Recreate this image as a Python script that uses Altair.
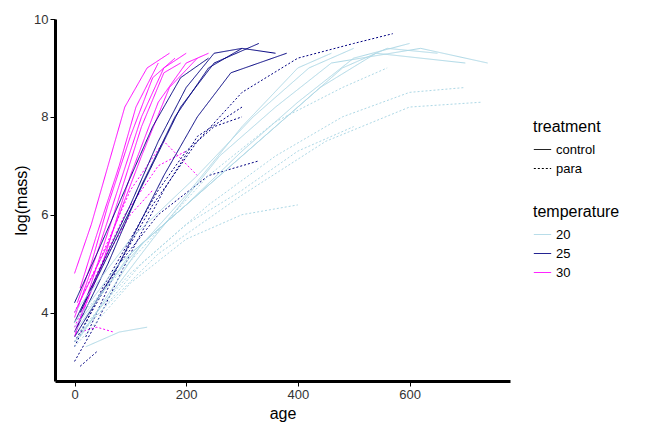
import altair as alt
import pandas as pd

# each entry: (temperature, treatment, "age:logmass ...")
tracks = [
 ("30","control","0:3.9 40:5.2 80:6.6 120:8.0 160:9.0 200:9.3"),
 ("30","control","5:4.2 30:5.0 60:6.2 100:7.6 140:8.8 180:9.2"),
 ("30","control","0:3.6 50:5.0 100:6.8 150:8.3 200:9.1 240:9.3"),
 ("30","control","10:4.5 40:5.6 80:7.0 110:8.2 150:9.1"),
 ("30","control","0:4.0 60:5.4 120:7.2 170:8.6 220:9.2"),
 ("30","control","0:3.5 30:4.6 70:6.0 120:7.8 160:8.9 190:9.1"),
 ("30","control","0:4.8 30:5.8 60:7.0 90:8.2 130:9.0 170:9.3"),
 ("30","para","0:3.7 30:4.5 60:5.2 100:6.0 140:6.5"),
 ("30","para","0:3.5 40:4.8 90:6.0 150:7.0 200:7.3"),
 ("30","para","10:3.6 40:3.7 70:3.6"),
 ("30","para","0:4.0 50:5.2 100:6.5 160:7.5 220:6.8"),
 ("25","control","0:3.8 50:5.0 100:6.2 150:7.5 200:8.6 250:9.3 300:9.4"),
 ("25","control","0:3.6 60:5.0 120:6.6 180:8.0 240:9.0 300:9.4 360:9.3"),
 ("25","control","10:4.0 70:5.4 130:6.8 190:8.2 250:9.1 330:9.5"),
 ("25","control","0:3.5 80:5.0 160:6.8 220:8.0 280:8.9 380:9.3"),
 ("25","control","0:4.2 40:5.2 90:6.5 140:7.8 190:8.8 240:9.2"),
 ("25","para","0:3.3 50:4.5 100:5.5 150:6.5 200:7.3 250:7.8 300:8.0"),
 ("25","para","0:3.0 40:3.8 100:5.2 160:6.5 220:7.6 300:8.2"),
 ("25","para","0:3.4 70:4.8 140:6.2 220:7.5 300:8.5 400:9.2 500:9.5 570:9.7"),
 ("25","para","20:3.5 80:5.0 150:6.0 240:6.8 330:7.1"),
 ("25","para","10:2.9 40:3.2"),
 ("20","control","0:3.6 100:5.2 200:6.2 300:7.3 400:8.3 500:9.2 600:9.5"),
 ("20","control","0:3.8 80:5.0 180:6.0 280:7.0 380:8.0 480:9.0 560:9.4 650:9.3"),
 ("20","control","10:3.5 120:5.4 240:6.6 340:7.6 440:8.6 540:9.3 700:9.1"),
 ("20","control","0:4.0 100:5.5 220:6.8 320:8.0 420:9.0 500:9.4"),
 ("20","control","0:3.4 140:5.5 260:7.2 360:8.2 460:9.1 620:9.4 740:9.1"),
 ("20","control","0:3.7 90:5.0 200:6.4 300:7.8 400:9.0 460:9.3"),
 ("20","control","20:3.3 80:3.6 130:3.7"),
 ("20","para","0:3.5 100:4.8 200:5.8 300:6.5 400:7.3 500:7.8"),
 ("20","para","0:3.4 120:5.0 240:6.2 360:7.2 480:8.0 600:8.5 700:8.6"),
 ("20","para","10:3.6 150:5.2 300:6.4 450:7.5 600:8.2 730:8.3"),
 ("20","para","0:3.3 100:4.6 200:5.5 300:6.0 400:6.2"),
 ("20","para","0:3.8 120:5.3 240:6.8 360:7.9 480:8.6 560:9.0"),
]

rows = []
for i, (t, tr, s) in enumerate(tracks):
    for o, p in enumerate(s.split()):
        a, m = p.split(":")
        rows.append({"id": i, "order": o, "temperature": t, "treatment": tr,
                     "age": float(a), "mass": float(m)})
df = pd.DataFrame(rows)

chart = alt.Chart(df).mark_line(strokeWidth=1).encode(
    x=alt.X("age:Q", title="age", scale=alt.Scale(domain=[-35, 780], nice=False),
            axis=alt.Axis(values=[0, 200, 400, 600])),
    y=alt.Y("mass:Q", title="log(mass)", scale=alt.Scale(domain=[2.6, 10], nice=False),
            axis=alt.Axis(values=[4, 6, 8, 10])),
    color=alt.Color("temperature:N", scale=alt.Scale(domain=["20", "25", "30"],
                    range=["#add8e6", "#000080", "#ff00ff"]),
                    legend=alt.Legend(symbolType="stroke", symbolSize=300, symbolStrokeWidth=1,
                                      symbolDash=[1, 0], orient="none", legendX=478, legendY=185)),
    strokeDash=alt.StrokeDash("treatment:N", scale=alt.Scale(domain=["control", "para"],
                    range=[[1, 0], [2, 2]]),
                    legend=alt.Legend(symbolType="stroke", symbolSize=300, symbolStrokeWidth=1,
                                      symbolStrokeColor="black", orient="none",
                                      legendX=478, legendY=100)),
    detail="id:N", order="order:Q",
).properties(width=455, height=362).configure_view(stroke=None).configure_axis(
    grid=False, domainColor="black", domainWidth=3, tickColor="black",
    labelFont="Liberation Sans", titleFont="Liberation Sans", labelFontSize=13,
    titleFontSize=16, titleFontWeight="normal", labelColor="#333", titleColor="black"
).configure_legend(labelFont="Liberation Sans", titleFont="Liberation Sans",
    labelFontSize=13, titleFontSize=16, titleFontWeight="normal")

chart.save("out.html", embed_options={"renderer": "svg", "actions": False})
